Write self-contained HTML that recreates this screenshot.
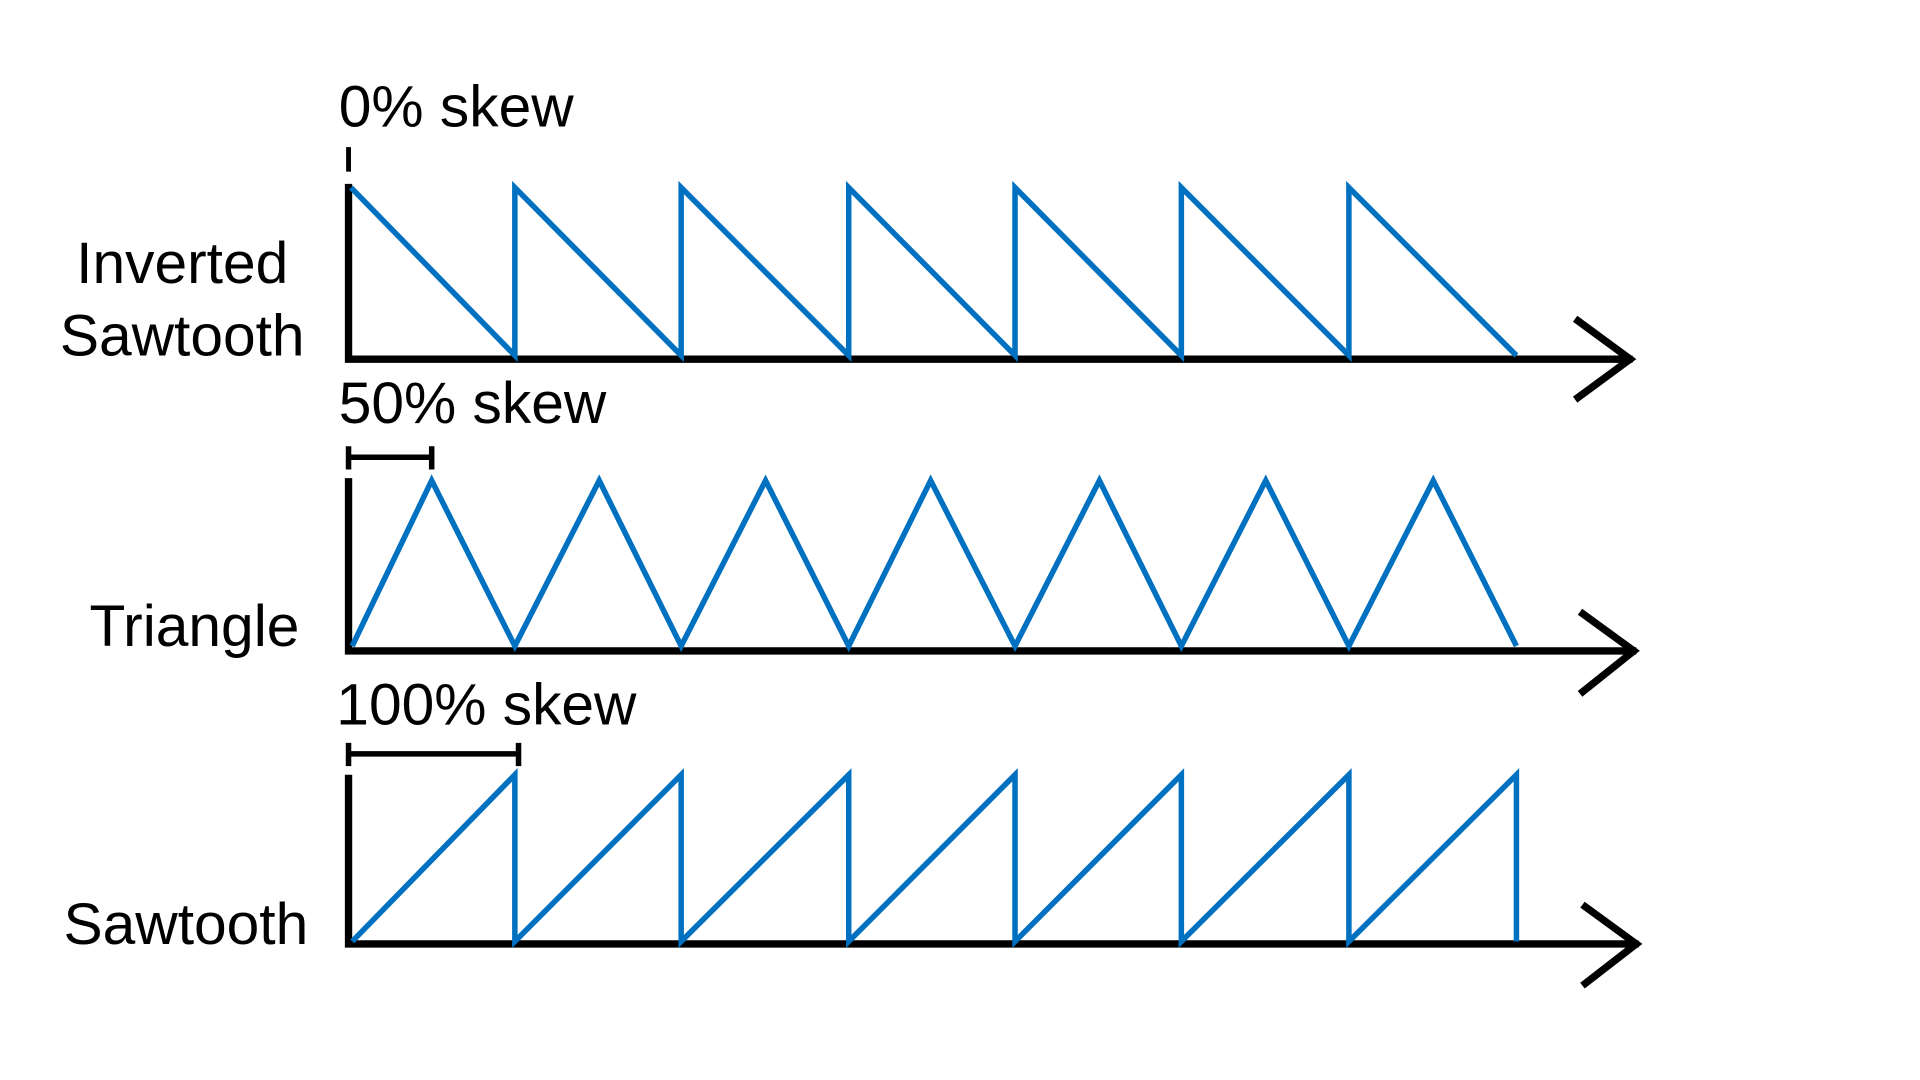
<!DOCTYPE html>
<html><head><style>html,body{margin:0;padding:0;background:#fff;}svg{display:block}</style></head>
<body>
<svg width="1920" height="1080" viewBox="0 0 1570 881" preserveAspectRatio="none" xmlns="http://www.w3.org/2000/svg">
<g font-family="Liberation Sans, sans-serif" font-size="48" fill="#000">
<text x="277" y="103">0% skew</text>
<text x="149" y="231" text-anchor="middle">Inverted</text>
<text x="149" y="290" text-anchor="middle">Sawtooth</text>
<text x="277" y="345">50% skew</text>
<text x="159" y="527" text-anchor="middle">Triangle</text>
<text x="275" y="591">100% skew</text>
<text x="152" y="770" text-anchor="middle">Sawtooth</text>
</g>
<g stroke="#000" stroke-width="6" fill="none">
<path d="M285 150V293H1335"/><path d="M1288 260L1333 293L1288 326"/>
<path d="M285 120V140" stroke-width="4"/>
<path d="M285 390V531H1338"/><path d="M1292 499L1336 531L1292 566"/>
<path d="M285 632V770H1340"/><path d="M1294 738L1338 770L1294 804"/>
</g>
<g stroke="#000" stroke-width="4.5" fill="none">
<path d="M285 373H353M285 364V383M353 364V383"/>
<path d="M285 615H424M285 606V625M424 606V625"/>
</g>
<g stroke="#0070C0" stroke-width="4.5" fill="none" stroke-linejoin="miter">
<path d="M287 153L421 290V153L557 290V153L694 290V153L830 290V153L966 290V153L1103 290V153L1240 290"/>
<path d="M288 527L353 392L421 527L490 392L557 527L626 392L694 527L761 392L830 527L899 392L966 527L1035 392L1103 527L1172 392L1240 527"/>
<path d="M288 768L421 632V768L557 632V768L694 632V768L830 632V768L966 632V768L1103 632V768L1240 632V768"/>
</g>
</svg>
</body></html>
